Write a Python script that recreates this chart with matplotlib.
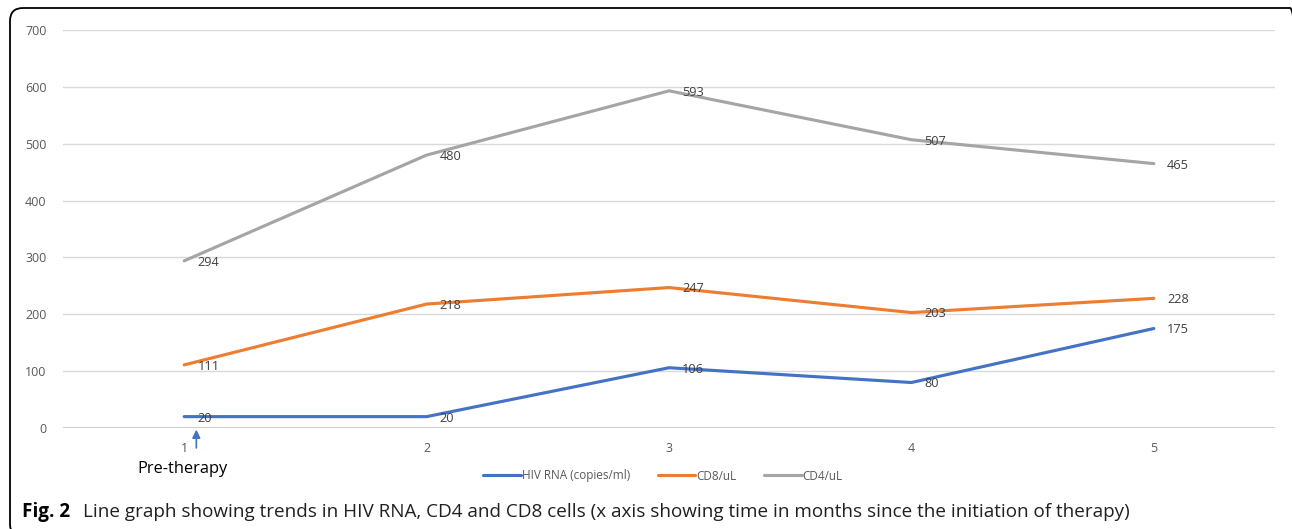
import matplotlib.pyplot as plt
from matplotlib.patches import FancyBboxPatch
from matplotlib.transforms import IdentityTransform

plt.rcParams['font.family'] = ['Open Sans', 'DejaVu Sans']

months = [1, 2, 3, 4, 5]
hiv_rna = [20, 20, 106, 80, 175]
cd8 = [111, 218, 247, 203, 228]
cd4 = [294, 480, 593, 507, 465]
y_ticks = [0, 100, 200, 300, 400, 500, 600, 700]

series = [
    ("HIV RNA (copies/ml)", hiv_rna, "#4472C4"),
    ("CD8/uL", cd8, "#ED7D31"),
    ("CD4/uL", cd4, "#A5A5A5"),
]

W, H = 1292, 529
fig = plt.figure(figsize=(W / 100, H / 100), dpi=100)
ax = fig.add_axes([63 / W, 1 - 428 / H, (1275 - 63) / W, (428 - 30) / H])

# rounded frame, cut off on the right and bottom like the source image
frame = FancyBboxPatch((10, -8), 1293, 529,
                       boxstyle="round,pad=0,rounding_size=13",
                       transform=IdentityTransform(), fill=False,
                       edgecolor="black", linewidth=1.3, clip_on=False)
fig.patches.append(frame)

handles = []
for name, vals, col in series:
    h, = ax.plot(months, vals, color=col, linewidth=2.25, label=name,
                 solid_capstyle="round")
    handles.append(h)
    for x, v in zip(months, vals):
        ax.annotate(str(v), (x, v), xytext=(9.5, -1), textcoords="offset points",
                    va="center", ha="left", fontsize=9.2, color="#404040")

ax.set_xlim(0.5, 5.5)
ax.set_ylim(0, 700)
ax.set_yticks(y_ticks)
ax.set_xticks(months)
ax.grid(axis="y", color="#D9D9D9", linewidth=1)
ax.axhline(0, color="#D0D0D0", linewidth=1.5, zorder=1)
ax.set_axisbelow(True)
for s in ax.spines.values():
    s.set_visible(False)
ax.tick_params(length=0, labelsize=9, colors="#595959", pad=12)
ax.tick_params(axis="x", pad=10)

# pre-therapy marker
ax.annotate("", xy=(1.05, 2), xytext=(1.05, -40),
            arrowprops=dict(arrowstyle="-|>", color="#4472C4", lw=1.2,
                            mutation_scale=12),
            annotation_clip=False)
fig.text(137 / W, 1 - 469 / H, "Pre-therapy", fontsize=11.8, va="center",
         ha="left", color="black")

fig.legend(handles=handles, loc="center", bbox_to_anchor=(663 / W, 1 - 476 / H),
           ncol=3, frameon=False, fontsize=8.5, handlelength=3.2,
           columnspacing=2.3, handletextpad=0.1, labelcolor="#595959")

fig.text(22 / W, 1 - 512 / H, "Fig. 2", fontsize=13.6, fontweight="bold",
         va="center", ha="left")
fig.text(83 / W, 1 - 512 / H,
         "Line graph showing trends in HIV RNA, CD4 and CD8 cells (x axis showing time in months since the initiation of therapy)",
         fontsize=13.6, va="center", ha="left", color="#231F20")

fig.savefig("out.png", dpi=100)
